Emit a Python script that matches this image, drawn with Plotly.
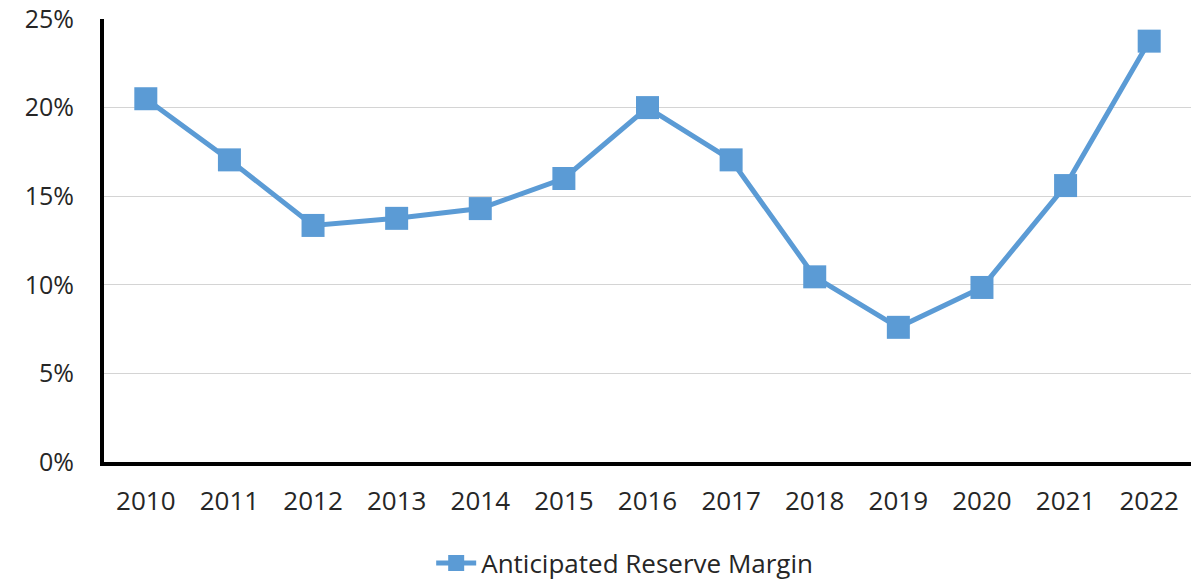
import plotly.graph_objects as go

years = ["2010", "2011", "2012", "2013", "2014", "2015", "2016",
         "2017", "2018", "2019", "2020", "2021", "2022"]
reserve_margin = [20.5, 17.05, 13.35, 13.75, 14.3, 16.0, 20.0,
                  17.05, 10.45, 7.6, 9.85, 15.6, 23.75]
y_ticks = [0, 5, 10, 15, 20, 25]
y_tick_labels = ["0%", "5%", "10%", "15%", "20%", "25%"]

color = "#5B9BD5"
font_family = "Open Sans, Noto Sans, Liberation Sans, sans-serif"

fig = go.Figure()
fig.add_trace(go.Scatter(
    x=years, y=reserve_margin, mode="lines+markers",
    name="Anticipated Reserve Margin",
    line=dict(color=color, width=5),
    marker=dict(symbol="square", size=23, color=color),
))

fig.update_layout(
    width=1204, height=580,
    margin=dict(l=95.5, r=21, t=11, b=126, autoexpand=False),
    paper_bgcolor="white", plot_bgcolor="white",
    font=dict(family=font_family, size=26, color="#262626"),
    showlegend=True,
    legend=dict(orientation="h", x=0.301, xanchor="left", y=-0.228, yanchor="middle",
                font=dict(size=26, color="#262626"), itemwidth=40),
    xaxis=dict(type="category", range=[-0.5, 12.5], showgrid=False,
               showline=True, linecolor="black", linewidth=4,
               ticks="", ticklabelstandoff=13, zeroline=False, automargin=False,
               tickfont=dict(size=26)),
    yaxis=dict(range=[0, 25], tickvals=y_ticks, ticktext=y_tick_labels,
               showgrid=True, gridcolor="#d4d4d4", gridwidth=1,
               showline=True, linecolor="black", linewidth=4,
               ticks="", ticklabelstandoff=21, zeroline=False, automargin=False,
               ticklabeloverflow="allow", tickfont=dict(size=25)),
)

fig.write_html("out.html")
